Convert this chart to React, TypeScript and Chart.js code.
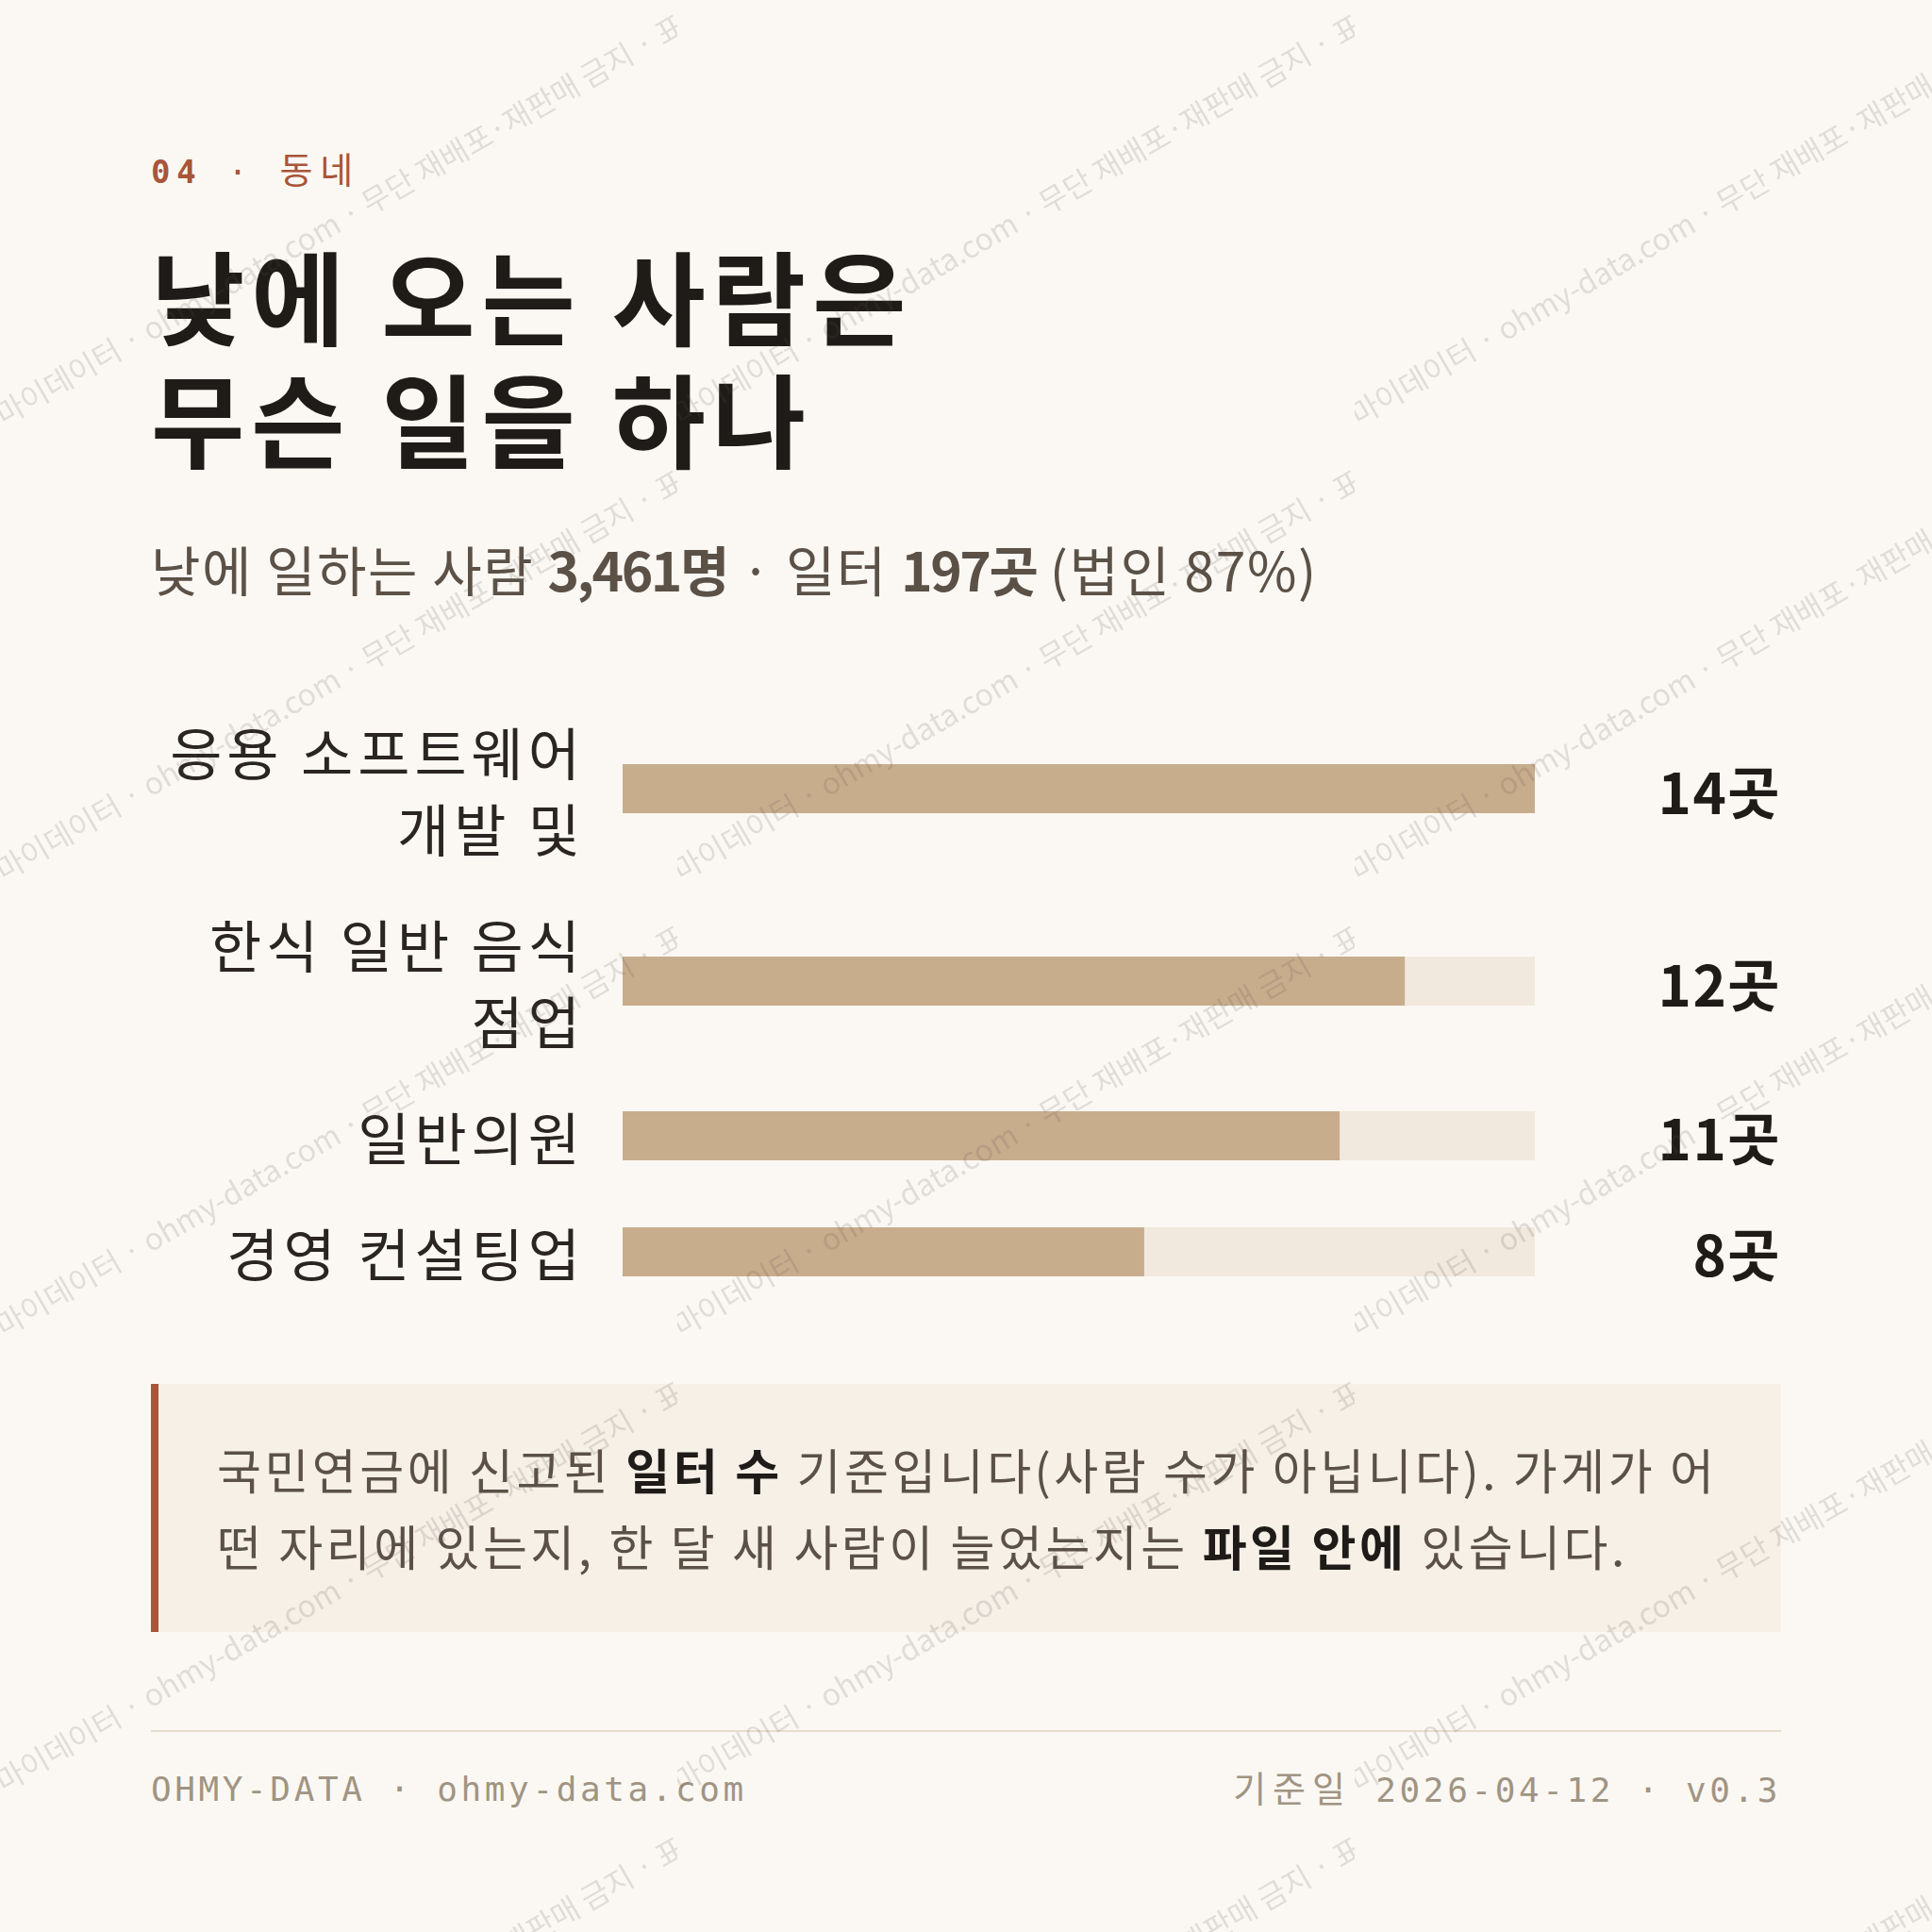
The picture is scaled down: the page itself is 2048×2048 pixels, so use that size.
import React, { useEffect, useRef } from "react";
import { Chart, registerables } from "chart.js";

Chart.register(...registerables);

// ---------- data ----------
const sectionNo = "04";
const sectionName = "동네";
const titleLines = ["낮에 오는 사람은", "무슨 일을 하나"];
const workers = "3,461명";
const workplaces = "197곳";
const corpShare = "87%";
const categories: string[][] = [
  ["응용 소프트웨어", "개발 및"],
  ["한식 일반 음식", "점업"],
  ["일반의원"],
  ["경영 컨설팅업"],
];
const values = [14, 12, 11, 8];
const unit = "곳";
const footerLeft = "OHMY-DATA · ohmy-data.com";
const footerDateLabel = "기준일";
const footerDate = "2026-04-12";
const footerVersion = "v0.3";
const watermarkText = "마이데이터 · ohmy-data.com · 무단 재배포·재판매 금지 · 표본";

// ---------- styles ----------
const BG = "#FBF8F3";
const BAR = "#C8AD8D";
const TRACK = "#F1E9DD";
const ACCENT = "#A8553A";
const INK = "#1E1B18";
const LABEL = "#2A2522";
const SUB = "#5B5147";
const FOOT = "#A09483";
const SANS = '"Noto Sans CJK KR", "Noto Sans", sans-serif';
const MONO = '"DejaVu Sans Mono", "Noto Sans CJK KR", monospace';

const BAR_W = 967;
const BAR_H = 52;

function BarCanvas({ value, max }: { value: number; max: number }) {
  const ref = useRef<HTMLCanvasElement | null>(null);
  useEffect(() => {
    if (!ref.current) return;
    const chart = new Chart(ref.current, {
      type: "bar",
      data: {
        labels: [""],
        datasets: [
          {
            data: [value],
            backgroundColor: BAR,
            borderWidth: 0,
            order: 1,
            grouped: false,
            barPercentage: 1,
            categoryPercentage: 1,
          } as any,
          {
            data: [max],
            backgroundColor: TRACK,
            borderWidth: 0,
            order: 2,
            grouped: false,
            barPercentage: 1,
            categoryPercentage: 1,
          } as any,
        ],
      },
      options: {
        indexAxis: "y",
        animation: false,
        responsive: false,
        maintainAspectRatio: false,
        events: [],
        layout: { padding: 0 },
        plugins: { legend: { display: false }, tooltip: { enabled: false } },
        scales: {
          x: { display: false, min: 0, max },
          y: { display: false },
        },
      },
    });
    return () => chart.destroy();
  }, [value, max]);
  return (
    <canvas
      ref={ref}
      width={BAR_W}
      height={BAR_H}
      style={{ display: "block", width: BAR_W, height: BAR_H }}
    />
  );
}

function Watermark() {
  const TW = 718;
  const TH = 483;
  const tiles: JSX.Element[] = [];
  for (let r = 0; r < 5; r++) {
    for (let c = 0; c < 3; c++) {
      tiles.push(
        <div
          key={`${r}-${c}`}
          style={{
            position: "absolute",
            left: c * TW,
            top: r * TH,
            width: TW,
            height: TH,
            overflow: "hidden",
          }}
        >
          <span
            style={{
              position: "absolute",
              left: 4,
              top: 422,
              whiteSpace: "nowrap",
              fontFamily: SANS,
              fontSize: 32,
              lineHeight: "32px",
              color: "rgba(95, 85, 75, 0.17)",
              transform: "rotate(-30deg)",
              transformOrigin: "0px 30px",
            }}
          >
            {watermarkText}
          </span>
        </div>
      );
    }
  }
  return (
    <div
      style={{
        position: "absolute",
        left: 0,
        top: 0,
        width: 2048,
        height: 2048,
        overflow: "hidden",
        pointerEvents: "none",
      }}
    >
      {tiles}
    </div>
  );
}

export default function App() {
  const max = Math.max(...values);
  return (
    <>
      <style>{`html,body{margin:0;padding:0;background:${BG};}`}</style>
      <div
        style={{
          position: "relative",
          width: 2048,
          height: 2048,
          background: BG,
          overflow: "hidden",
          fontFamily: SANS,
        }}
      >
        {/* header */}
        <div
          style={{
            position: "absolute",
            left: 160,
            top: 161,
            fontFamily: MONO,
            fontSize: 34,
            lineHeight: "40px",
            letterSpacing: "0.2em",
            color: ACCENT,
            whiteSpace: "nowrap",
          }}
        >
          <span style={{ fontWeight: 700 }}>{sectionNo}</span> ·{" "}
          <span style={{ fontSize: 38, letterSpacing: "8px" }}>{sectionName}</span>
        </div>

        {/* title */}
        <div
          style={{
            position: "absolute",
            left: 160,
            top: 246,
            fontWeight: 700,
            fontSize: 108,
            lineHeight: "130px",
            letterSpacing: "7px",
            color: INK,
            whiteSpace: "nowrap",
          }}
        >
          {titleLines.map((l, i) => (
            <div key={i}>{l}</div>
          ))}
        </div>

        {/* subtitle */}
        <div
          style={{
            position: "absolute",
            left: 160,
            top: 562,
            fontSize: 57,
            lineHeight: "80px",
            letterSpacing: "1.5px",
            color: SUB,
            whiteSpace: "nowrap",
          }}
        >
          낮에 일하는 사람 <b style={{ letterSpacing: "-2.5px" }}>{workers}</b> · 일터{" "}
          <b style={{ letterSpacing: "-2.5px" }}>{workplaces}</b> (법인 {corpShare})
        </div>

        {/* rows */}
        <div
          style={{
            position: "absolute",
            left: 160,
            top: 755,
            width: 1728,
            display: "flex",
            flexDirection: "column",
            gap: 42,
          }}
        >
          {categories.map((lines, i) => (
            <div key={i} style={{ display: "flex", alignItems: "center" }}>
              <div
                style={{
                  width: 460,
                  textAlign: "right",
                  fontSize: 60,
                  lineHeight: "81px",
                  letterSpacing: "5px",
                  color: LABEL,
                  whiteSpace: "nowrap",
                }}
              >
                {lines.map((l, j) => (
                  <div key={j}>{l}</div>
                ))}
              </div>
              <div style={{ marginLeft: 40, width: BAR_W, height: BAR_H }}>
                <BarCanvas value={values[i]} max={max} />
              </div>
              <div
                style={{
                  flex: 1,
                  textAlign: "right",
                  fontSize: 60,
                  fontWeight: 700,
                  lineHeight: "81px",
                  letterSpacing: "1.5px",
                  color: INK,
                  whiteSpace: "nowrap",
                }}
              >
                {values[i]}
                {unit}
              </div>
            </div>
          ))}
        </div>

        {/* note */}
        <div
          style={{
            position: "absolute",
            left: 160,
            top: 1467,
            width: 1728,
            height: 263,
            boxSizing: "border-box",
            background: "#F6F0E7",
            borderLeft: `8px solid ${ACCENT}`,
            padding: "50px 0 0 62px",
            fontSize: 51,
            lineHeight: "81px",
            letterSpacing: "3.5px",
            color: SUB,
            whiteSpace: "nowrap",
          }}
        >
          <div>
            국민연금에 신고된 <b style={{ color: INK }}>일터 수</b> 기준입니다(사람 수가 아닙니다). 가게가 어
          </div>
          <div>
            떤 자리에 있는지, 한 달 새 사람이 늘었는지는 <b style={{ color: INK }}>파일 안에</b> 있습니다.
          </div>
        </div>

        {/* divider */}
        <div
          style={{
            position: "absolute",
            left: 160,
            top: 1834,
            width: 1728,
            height: 2,
            background: "#E6DDCE",
          }}
        />

        {/* footer */}
        <div
          style={{
            position: "absolute",
            left: 160,
            top: 1877,
            width: 1728,
            display: "flex",
            justifyContent: "space-between",
            fontFamily: MONO,
            fontSize: 36,
            lineHeight: "40px",
            letterSpacing: "0.1em",
            color: FOOT,
            whiteSpace: "nowrap",
          }}
        >
          <span>{footerLeft}</span>
          <span>
            <span style={{ fontSize: 38, letterSpacing: "7px" }}>{footerDateLabel}</span>{" "}
            {footerDate} · {footerVersion}
          </span>
        </div>

        <Watermark />
      </div>
    </>
  );
}
